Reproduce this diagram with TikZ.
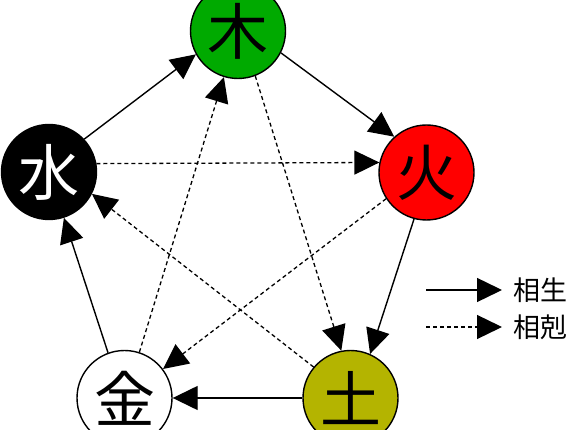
\documentclass[tikz,border=0pt]{standalone}
\usepackage{fontspec}
\newfontfamily\cjk{Noto Sans CJK JP}
\usetikzlibrary{arrows.meta}
\definecolor{mugreen}{RGB}{0,170,0}
\definecolor{huored}{RGB}{255,0,0}
\definecolor{tuolive}{RGB}{180,180,0}
\tikzset{
  elem/.style={circle, draw, line width=1.4pt, minimum size=95pt, inner sep=0pt,
    font=\cjk\fontsize{61}{61}\selectfont},
  sheng/.style={->, line width=1.4pt},
  ke/.style={->, line width=1.3pt, dash pattern=on 4pt off 3pt},
  legend/.style={anchor=west, inner sep=0pt, font=\cjk\fontsize{27}{27}\selectfont}
}

\begin{document}
\begin{tikzpicture}[x=1pt, y=-1pt, >={Triangle[length=25pt, width=24pt]}]
	\useasboundingbox (0,0) rectangle (581,430);
	\node [elem, fill=mugreen]          (mu)    at (238,31)    {木};
	\node [elem, fill=huored]           (huo)   at (426.5,172.5) {火};
	\node [elem, fill=tuolive]          (tu)    at (350.5,398) {土};
	\node [elem, fill=white]            (jin)   at (124.5,398) {金};
	\node [elem, fill=black, text=white] (shui) at (49,172)    {水};
	% sheng
	\draw [sheng] (mu.-27)    -- (huo.132);
	\draw [sheng] (huo.-105)  -- (tu.66);
	\draw [sheng] (tu.180)    -- (jin.0);
	\draw [sheng] (jin.110)   -- (shui.-72);
	\draw [sheng] (shui.43)   -- (mu.-151);
	% ke
	\draw [ke] (mu.-69)    -- (tu.101);
	\draw [ke] (tu.140)    -- (shui.-27);
	\draw [ke] (shui.10)   -- (huo.168);
	\draw [ke] (huo.-147)  -- (jin.37);
	\draw [ke] (jin.72.5)  -- (mu.-107);
	% legend
	\coordinate (shengA) at (426,290);
	\coordinate (shengB) at (502,290);
	\coordinate (keA)    at (426,327);
	\coordinate (keB)    at (502,327);
	\draw [sheng] (shengA) -- (shengB);
	\draw [ke]    (keA)    -- (keB);
	\node [legend] (shengtext) at (513,290) {相生};
	\node [legend] (ketext)    at (513,327) {相剋};
\end{tikzpicture}
\end{document}
